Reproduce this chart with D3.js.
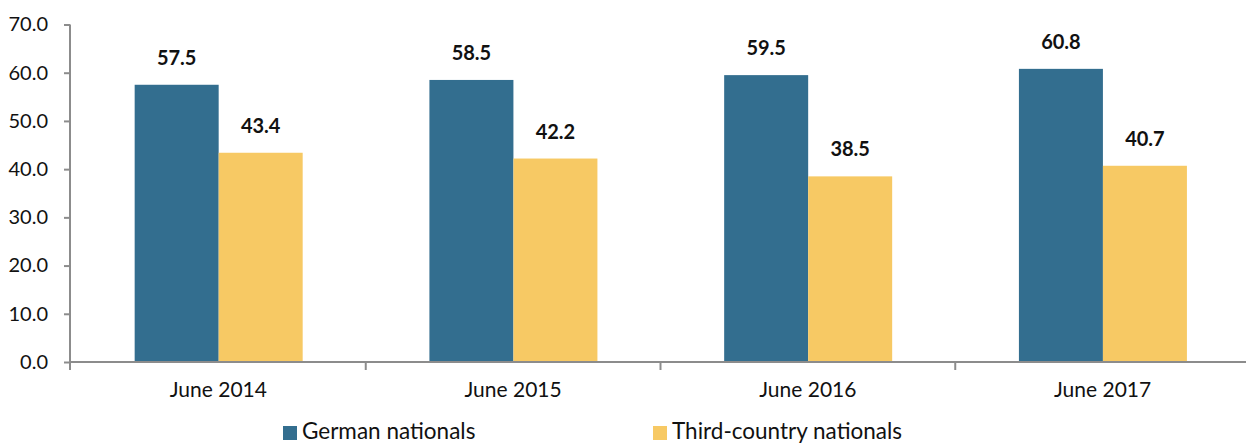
<!DOCTYPE html>
<html><head><meta charset="utf-8">
<script src="https://cdn.jsdelivr.net/npm/d3@7"></script>
<style>
html,body{margin:0;padding:0;background:#fff;}
svg text{font-family:Lato,"Open Sans",sans-serif;fill:#111;}
</style></head>
<body><svg id="c" width="1246" height="445"></svg>
<script>
const categories = ["June 2014","June 2015","June 2016","June 2017"];
const seriesNames = ["German nationals","Third-country nationals"];
const germanValues = [57.5, 58.5, 59.5, 60.8];
const thirdCountryValues = [43.4, 42.2, 38.5, 40.7];
const yTickValues = [0,10,20,30,40,50,60,70];
const colors = ["#336E8F","#F7C964"];

const svg = d3.select("#c");
const x0 = d3.scaleBand().domain(categories).range([71,1250]).padding(0);
const bw = x0.bandwidth();
const x1 = d3.scaleBand().domain(seriesNames).range([bw*0.216, bw*0.786]).padding(0);
const y = d3.scaleLinear().domain([0,70]).range([362,24.5]);

const rows = categories.map((c,i)=>({cat:c, vals:[germanValues[i], thirdCountryValues[i]]}));

// bars
const g = svg.append("g");
rows.forEach(r=>{
  r.vals.forEach((v,j)=>{
    const xs = x0(r.cat)+x1(seriesNames[j]);
    g.append("rect").attr("x",xs).attr("y",y(v)).attr("width",x1.bandwidth()).attr("height",y(0)-y(v)).attr("fill",colors[j]);
    g.append("text").attr("x",xs+x1.bandwidth()/2).attr("y",y(v)-20).attr("text-anchor","middle")
      .style("font-size","20px").style("font-weight","bold").text(v.toFixed(1));
  });
});

// y axis
const ya = svg.append("g").attr("transform","translate(70,0)")
  .call(d3.axisLeft(y).tickValues(yTickValues).tickFormat(d3.format(".1f")).tickSize(6).tickPadding(16));
ya.select(".domain").remove();
ya.selectAll(".tick line").attr("stroke","#8c8c8c").attr("stroke-width",2);
ya.selectAll(".tick text").style("font-size","20px").style("font-family","Lato,sans-serif").attr("fill","#111");
svg.append("line").attr("x1",70).attr("x2",70).attr("y1",y(70)).attr("y2",370).attr("stroke","#8c8c8c").attr("stroke-width",2);

// x axis
svg.append("line").attr("x1",69).attr("x2",1246).attr("y1",362).attr("y2",362).attr("stroke","#8c8c8c").attr("stroke-width",2);
categories.forEach((c,i)=>{
  if(i===0) return;
  const xb = x0(c);
  svg.append("line").attr("x1",xb).attr("x2",xb).attr("y1",362).attr("y2",370).attr("stroke","#8c8c8c").attr("stroke-width",2);
});
const xa = svg.append("g").attr("transform","translate(0,362)")
  .call(d3.axisBottom(x0).tickSize(0).tickPadding(20));
xa.select(".domain").remove();
xa.selectAll(".tick text").style("font-size","21px").style("font-family","Lato,sans-serif").attr("fill","#111");

// legend
const legX = [283, 653];
seriesNames.forEach((s,j)=>{
  svg.append("rect").attr("x",legX[j]).attr("y",426).attr("width",14).attr("height",14).attr("fill",colors[j]);
  svg.append("text").attr("x",legX[j]+19).attr("y",439).style("font-size","22.5px").text(s);
});
</script></body></html>
